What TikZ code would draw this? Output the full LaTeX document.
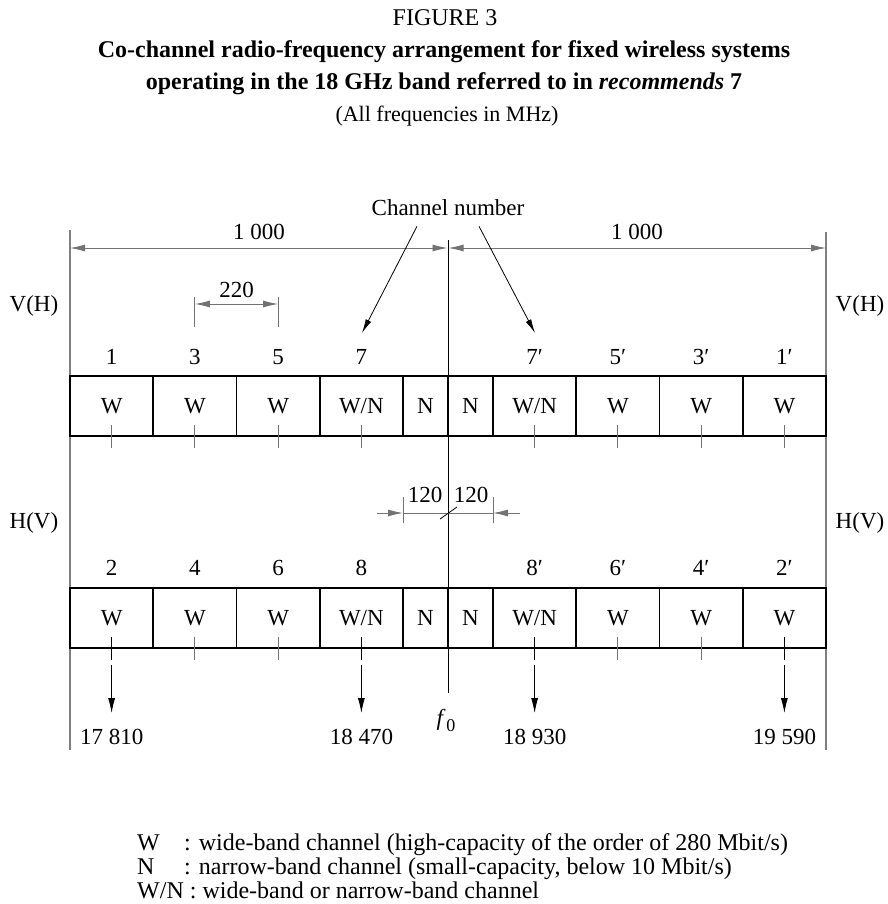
\documentclass[tikz,border=0pt]{standalone}
\usepackage{fontspec}
\setmainfont{Liberation Serif}
\usetikzlibrary{arrows.meta}
\begin{document}
\begin{tikzpicture}[x=1pt,y=-1pt,
  txt/.style={inner sep=0pt,font=\fontsize{23}{25}\selectfont},
  ttl/.style={inner sep=0pt,font=\fontsize{24}{26}\selectfont},
  leg/.style={inner sep=0pt,anchor=base west,font=\fontsize{24}{25}\selectfont},
  chbox/.style={draw,line width=1.8pt,minimum height=60pt,inner sep=0pt,font=\fontsize{23}{25}\selectfont},
  wbox/.style={chbox,minimum width=83.25pt},
  nbox/.style={chbox,minimum width=45pt},
  thin/.style={draw=black!55,line width=0.9pt},
  outer/.style={draw=black!50,line width=1.6pt},
  tip/.style={-{Latex[length=15pt,width=7pt]}},
  bitip/.style={{Latex[length=15pt,width=7pt]}-{Latex[length=15pt,width=7pt]}},
  ptr/.style={draw=black,line width=0.8pt,-{Latex[length=14pt,width=6pt]}}
]
\useasboundingbox (0,0) rectangle (887,904);
% titles
\node[ttl] (fig) at (445,18) {FIGURE 3};
\node[ttl,font=\fontsize{24}{26}\selectfont\bfseries] (t1) at (444,52) {Co-channel radio-frequency arrangement for fixed wireless systems};
\node[ttl,font=\fontsize{24}{26}\selectfont\bfseries] (t2) at (444,84) {operating in the 18 GHz band referred to in \textit{recommends} 7};
\node[ttl,font=\fontsize{22}{24}\selectfont] (t3) at (447,116) {(All frequencies in MHz)};
% outer and center lines
\coordinate (Ltop) at (70,230); \coordinate (Lbot) at (70,750);
\coordinate (Rtop) at (826,232); \coordinate (Rbot) at (826,750);
\coordinate (Ctop) at (448,240); \coordinate (Cbot) at (448,693);
\draw[outer] (Ltop) -- (Lbot);
\draw[outer] (Rtop) -- (Rbot);
% boxes
\foreach \n/\x/\s/\l in {a1/111.625/wbox/W, a3/194.875/wbox/W, a5/278.125/wbox/W, a7/361.375/wbox/{W/N}, an1/425.5/nbox/N, an2/470.5/nbox/N, a7p/534.625/wbox/{W/N}, a5p/617.875/wbox/W, a3p/701.125/wbox/W, a1p/784.375/wbox/W}
  \node[\s] (\n) at (\x,406) {\l};
\foreach \n/\x/\s/\l in {b2/111.625/wbox/W, b4/194.875/wbox/W, b6/278.125/wbox/W, b8/361.375/wbox/{W/N}, bn1/425.5/nbox/N, bn2/470.5/nbox/N, b8p/534.625/wbox/{W/N}, b6p/617.875/wbox/W, b4p/701.125/wbox/W, b2p/784.375/wbox/W}
  \node[\s] (\n) at (\x,618) {\l};
\draw[draw=black,line width=0.8pt] (Ctop) -- (Cbot);
% channel numbers
\foreach \n/\l in {a1/1, a3/3, a5/5, a7/7, a7p/7′, a5p/5′, a3p/3′, a1p/1′}
  \node[txt] (l\n) at ([yshift=49pt]\n.center) {\l};
\foreach \n/\l in {b2/2, b4/4, b6/6, b8/8, b8p/8′, b6p/6′, b4p/4′, b2p/2′}
  \node[txt] (l\n) at ([yshift=50pt]\n.center) {\l};
% ticks
\foreach \n in {a1,a3,a5,a7,a7p,a5p,a3p,a1p}
  \draw[thin] ([yshift=-19pt]\n.center) -- ([yshift=-42pt]\n.center);
\foreach \n in {b4,b6,b6p,b4p}
  \draw[thin] ([yshift=-19pt]\n.center) -- ([yshift=-42pt]\n.center);
% frequency arrows
\foreach \n/\l in {b2/17 810, b8/18 470, b8p/18 930, b2p/19 590}{
  \draw[draw=black,line width=0.8pt] ([yshift=-19pt]\n.center) -- ([yshift=-42pt]\n.center);
  \node[txt] (f\n) at ([yshift=-119pt]\n.center) {\l};
  \draw[draw=black,line width=0.8pt,tip] ([yshift=-47pt]\n.center) -- ([yshift=-95pt]\n.center);
}
\node[txt] (f0) at (446,720) {\textit{f}\kern0.5pt\raisebox{-6pt}{\fontsize{18}{18}\selectfont 0}};
% 1000 dimensions
\coordinate (d1) at (70,248); \coordinate (d2) at (447.5,248);
\coordinate (d3) at (448.5,248); \coordinate (d4) at (826,248);
\draw[thin,bitip] (d1) -- (d2);
\draw[thin,bitip] (d3) -- (d4);
\node[txt] (k1) at (259,232) {1 000};
\node[txt] (k2) at (637,232) {1 000};
% 220 dimension
\draw[thin] (194.875,297) -- (194.875,327);
\draw[thin] (278.125,297) -- (278.125,327);
\coordinate (e1) at (194.875,304); \coordinate (e2) at (278.125,304);
\draw[thin,bitip] (e1) -- (e2);
\node[txt] (k220) at (236.5,290) {220};
% channel number pointer
\node[txt] (cn) at (448,208) {Channel number};
\coordinate (p1) at (362,333); \coordinate (p2) at (535,333);
\draw[ptr] (cn.south) ++(-31,10) -- (p1);
\draw[ptr] (cn.south) ++(31,10) -- (p2);
% polarisation labels
\node[txt] (vl) at (34,306) {V(H)};
\node[txt] (vr) at (860,306) {V(H)};
\node[txt] (hl) at (34,523) {H(V)};
\node[txt] (hr) at (860,523) {H(V)};
% 120 dimension
\coordinate (g1) at (403,513); \coordinate (g2) at (493,513);
\coordinate (g0) at (377,513); \coordinate (g3) at (520,513);
\draw[thin] (403,497) -- (403,523);
\draw[thin] (493,497) -- (493,523);
\draw[thin] (g1) -- (g2);
\draw[thin,tip] (g0) -- (g1);
\draw[thin,tip] (g3) -- (g2);
\draw[draw=black,line width=0.8pt] (440,519) -- (457,507);
\node[txt] (k120a) at (425,495) {120};
\node[txt] (k120b) at (471,495) {120};
% legend
\node[leg] (lw) at (137,850) {W};
\node[leg] (ln) at (137,874) {N};
\node[leg] (tw) at (184,850) {: wide-band channel (high-capacity of the order of 280 Mbit/s)};
\node[leg] (tn) at (184,874) {: narrow-band channel (small-capacity, below 10 Mbit/s)};
\node[leg] (twn) at (137,898) {W/N : wide-band or narrow-band channel};
\end{tikzpicture}
\end{document}
